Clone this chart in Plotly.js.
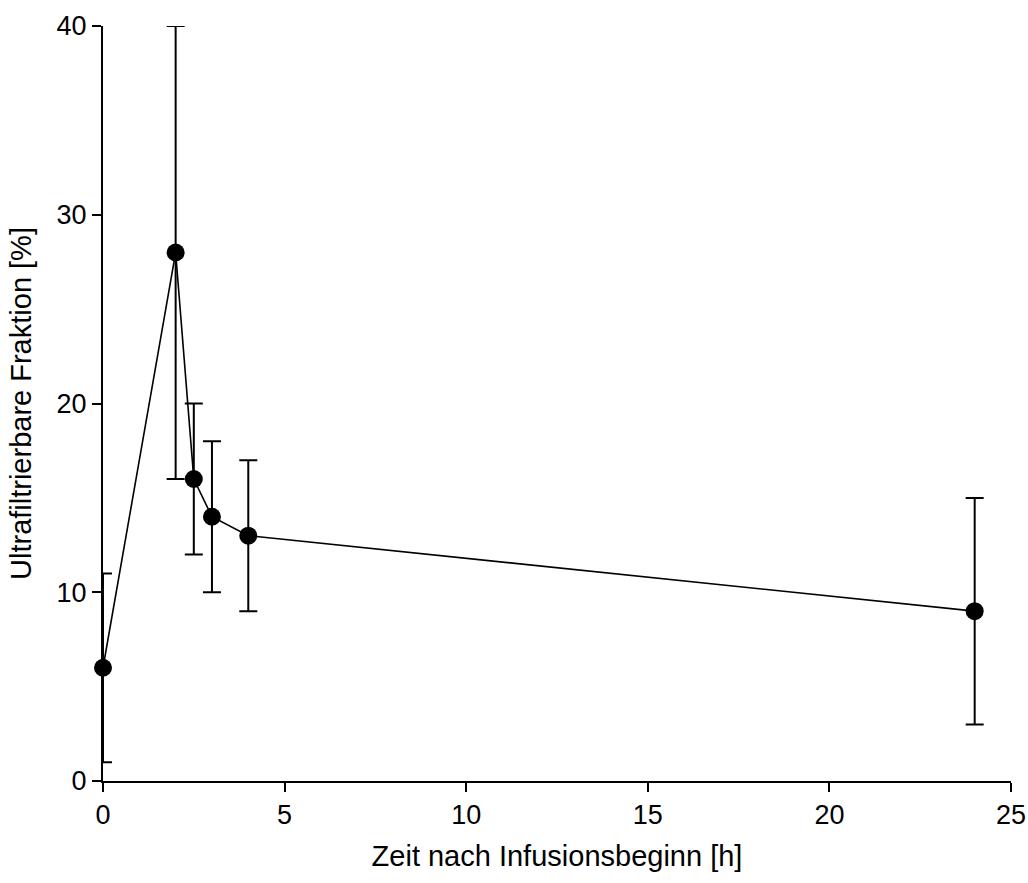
<!DOCTYPE html>
<html>
<head>
<meta charset="utf-8">
<script src="https://cdn.plot.ly/plotly-3.0.1.min.js"></script>
<style>html,body{margin:0;padding:0;background:#fff;}#chart{width:1028px;height:883px;}</style>
</head>
<body>
<div id="chart"></div>
<script>
const timeH = [0, 2, 2.5, 3, 4, 24];
const fraction = [6, 28, 16, 14, 13, 9];
const errorSD = [5, 12, 4, 4, 4, 6];
const xTicks = [0, 5, 10, 15, 20, 25];
const yTicks = [0, 10, 20, 30, 40];

const trace = {
  x: timeH,
  y: fraction,
  type: 'scatter',
  mode: 'lines+markers',
  cliponaxis: false,
  line: {color: '#000', width: 1.6},
  marker: {color: '#000', size: 18},
  error_y: {type: 'data', array: errorSD, visible: true, color: '#000', thickness: 2, width: 9}
};

const layout = {
  width: 1028, height: 883,
  margin: {l: 103, r: 17, t: 26, b: 102},
  paper_bgcolor: '#fff', plot_bgcolor: '#fff',
  showlegend: false,
  font: {family: 'Liberation Sans, Arial, sans-serif', size: 27, color: '#000'},
  xaxis: {
    range: [0, 25], tickvals: xTicks, ticktext: xTicks.map(String),
    showgrid: false, zeroline: false, showline: true, linecolor: '#000', linewidth: 2,
    ticks: 'outside', ticklen: 9, tickwidth: 2, tickcolor: '#000',
    tickfont: {size: 27},
    title: {text: 'Zeit nach Infusionsbeginn [h]', font: {size: 29}, standoff: 16}
  },
  yaxis: {
    range: [0, 40], tickvals: yTicks, ticktext: yTicks.map(String),
    showgrid: false, zeroline: false, showline: true, linecolor: '#000', linewidth: 2,
    ticks: 'outside', ticklen: 9, tickwidth: 2, tickcolor: '#000',
    tickfont: {size: 27},
    title: {text: 'Ultrafiltrierbare Fraktion [%]', font: {size: 29}, standoff: 16}
  }
};

Plotly.newPlot('chart', [trace], layout, {displayModeBar: false, staticPlot: true});
</script>
</body>
</html>
